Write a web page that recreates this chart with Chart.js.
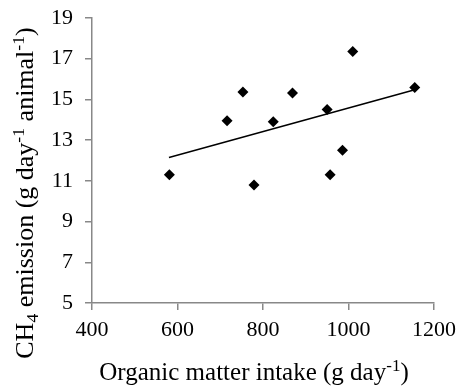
<!DOCTYPE html>
<html>
<head>
<meta charset="utf-8">
<script src="https://cdn.jsdelivr.net/npm/chart.js@4.4.1/dist/chart.umd.min.js"></script>
<style>
  html, body { margin: 0; padding: 0; background: #fff; }
  #wrap { width: 457px; height: 389px; position: relative; }
</style>
</head>
<body>
<div id="wrap"><canvas id="scatterChart"></canvas></div>
<script>
/* data */
const intake = [581, 716, 753, 779, 824, 869, 950, 957, 986, 1010, 1155];
const methane = [11.3, 13.95, 15.37, 10.8, 13.9, 15.32, 14.5, 11.3, 12.5, 17.35, 15.58];
const trendX = [580, 1155];
const trendY = [12.15, 15.48];
const xTicks = [400, 600, 800, 1000, 1200];
const yTicks = [5, 7, 9, 11, 13, 15, 17, 19];

const FONT = "'Liberation Serif', 'Times New Roman', serif";
const AXIS_GREY = '#888888';

// draws text pieces with sub/superscripts, centred on the origin
function drawRich(ctx, parts, size) {
    let w = 0;
    parts.forEach(p => {
        ctx.font = (p.s ? size * 0.68 : size) + 'px ' + FONT;
        p.w = ctx.measureText(p.t).width;
        w += p.w;
    });
    let x = -w / 2;
    parts.forEach(p => {
        ctx.font = (p.s ? size * 0.68 : size) + 'px ' + FONT;
        let dy = 0;
        if (p.s === 'sup') dy = -size * 0.36;
        if (p.s === 'sub') dy = size * 0.2;
        ctx.fillText(p.t, x, dy);
        x += p.w;
    });
}

const axisTitles = {
    id: 'axisTitles',
    afterDraw(chart) {
        const ctx = chart.ctx;
        ctx.save();
        ctx.fillStyle = '#000';
        ctx.textBaseline = 'alphabetic';
        ctx.textAlign = 'left';
        // x title
        ctx.save();
        ctx.translate(254, 380);
        drawRich(ctx, [
            {t: 'Organic matter intake (g day'},
            {t: '-1', s: 'sup'},
            {t: ')'}
        ], 25);
        ctx.restore();
        // y title
        ctx.save();
        ctx.translate(33, 193);
        ctx.rotate(-Math.PI / 2);
        drawRich(ctx, [
            {t: 'CH'},
            {t: '4', s: 'sub'},
            {t: ' emission (g day'},
            {t: '-1', s: 'sup'},
            {t: ' animal'},
            {t: '-1', s: 'sup'},
            {t: ')'}
        ], 26);
        ctx.restore();
        ctx.restore();
    }
};

new Chart(document.getElementById('scatterChart'), {
    type: 'scatter',
    data: {
        datasets: [{
            label: 'CH4 emission',
            data: intake.map((x, i) => ({x: x, y: methane[i]})),
            pointStyle: 'rectRot',
            pointRadius: 5.5,
            pointHoverRadius: 5.5,
            backgroundColor: '#000',
            borderColor: '#000',
            borderWidth: 0
        }, {
            label: 'Linear trend',
            type: 'line',
            data: trendX.map((x, i) => ({x: x, y: trendY[i]})),
            borderColor: '#000',
            borderWidth: 1.5,
            pointRadius: 0,
            fill: false
        }]
    },
    options: {
        responsive: true,
        maintainAspectRatio: false,
        animation: false,
        layout: { padding: { left: 0, right: 23, top: 18, bottom: 0 } },
        plugins: {
            legend: { display: false },
            tooltip: { enabled: false }
        },
        scales: {
            x: {
                type: 'linear',
                min: 400,
                max: 1200,
                afterBuildTicks(scale) { scale.ticks = xTicks.map(v => ({value: v})); },
                afterFit(scale) { scale.height = 86; scale.paddingRight = 0; scale.paddingLeft = 0; },
                border: { color: AXIS_GREY, width: 1.5 },
                grid: { drawOnChartArea: false, color: AXIS_GREY, tickLength: 7, lineWidth: 1.5 },
                ticks: { color: '#000', font: { family: FONT, size: 22 }, padding: 7, maxRotation: 0,
                         callback: v => String(v) }
            },
            y: {
                type: 'linear',
                min: 5,
                max: 19,
                afterBuildTicks(scale) { scale.ticks = yTicks.map(v => ({value: v})); },
                afterFit(scale) { scale.width = 92; scale.paddingTop = 0; scale.paddingBottom = 0; },
                border: { color: AXIS_GREY, width: 1.5 },
                grid: { drawOnChartArea: false, color: AXIS_GREY, tickLength: 7, lineWidth: 1.5 },
                ticks: { color: '#000', font: { family: FONT, size: 22 }, padding: 12,
                         callback: v => String(v) }
            }
        }
    },
    plugins: [axisTitles]
});
</script>
</body>
</html>
